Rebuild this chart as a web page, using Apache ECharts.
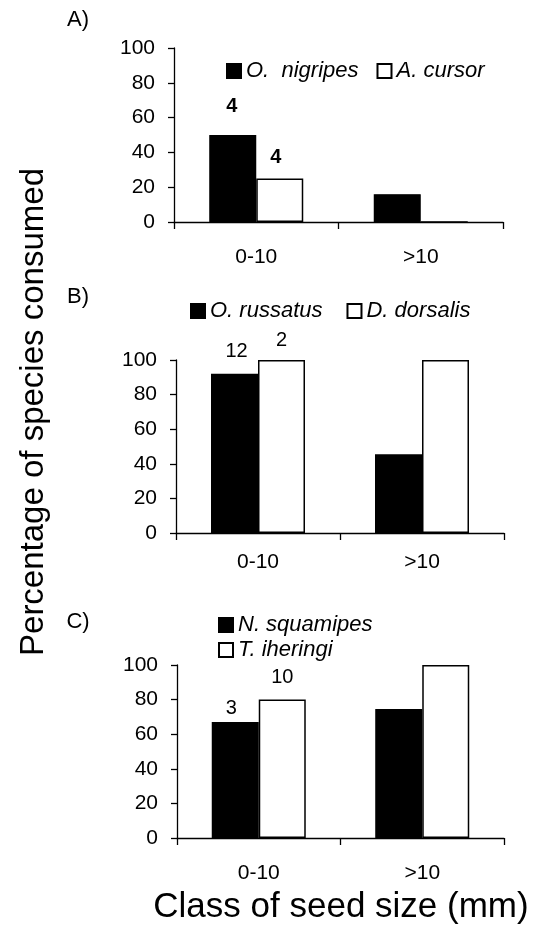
<!DOCTYPE html>
<html>
<head>
<meta charset="utf-8">
<script src="https://cdn.jsdelivr.net/npm/echarts@6/dist/echarts.min.js"></script>
<style>
  html, body { margin: 0; padding: 0; background: #fff; }
  #chart { width: 545px; height: 944px; }
</style>
</head>
<body>
<div id="chart"></div>
<script>
const categories = ['0-10', '>10'];

// panel A
const nigripes = [50, 16];
const cursor = [25, 0];
const nigripesN = ['4', ''];
const cursorN = ['4', ''];

// panel B
const russatus = [92, 45.5];
const dorsalis = [100, 100];
const russatusN = ['12', ''];
const dorsalisN = ['2', ''];

// panel C
const squamipes = [67, 74.5];
const iheringi = [80, 100];
const squamipesN = ['3', ''];
const iheringiN = ['10', ''];

const FONT = '"Liberation Sans", Arial, sans-serif';

const grids = [
  { left: 174, right: 42, top: 48, height: 174 },
  { left: 176, right: 41, top: 360, height: 173 },
  { left: 177, right: 41, top: 665, height: 173 }
];
const labelMargins = [25, 19, 25];

const xAxes = grids.map((g, i) => ({
  type: 'category',
  gridIndex: i,
  data: categories,
  axisLine: { lineStyle: { color: '#000', width: 1.3 } },
  axisTick: { show: true, length: 7, lineStyle: { color: '#000', width: 1.3 } },
  axisLabel: { color: '#000', fontSize: 21, fontFamily: FONT, margin: labelMargins[i] }
}));

const yAxes = grids.map((g, i) => ({
  type: 'value',
  gridIndex: i,
  min: 0,
  max: 100,
  interval: 20,
  splitLine: { show: false },
  axisLine: { show: true, lineStyle: { color: '#000', width: 1.3 } },
  axisTick: { show: true, length: 6, lineStyle: { color: '#000', width: 1.3 } },
  axisLabel: { color: '#000', fontSize: 21, fontFamily: FONT, margin: 19 }
}));

function barSeries(name, values, counts, idx, filled, dist, bold, dx) {
  return {
    name: name,
    type: 'bar',
    xAxisIndex: idx,
    yAxisIndex: idx,
    barWidth: 47,
    barGap: '0%',
    data: values.map((v, k) => ({
      value: v,
      label: { show: counts[k] !== '', formatter: counts[k] }
    })),
    itemStyle: filled
      ? { color: '#000', borderColor: '#000', borderWidth: 1.3 }
      : { color: '#fff', borderColor: '#000', borderWidth: 1.5 },
    label: {
      position: 'top',
      distance: dist,
      offset: [dx || 0, 0],
      color: '#000',
      fontSize: 20,
      fontWeight: bold ? 'bold' : 'normal',
      fontFamily: FONT
    }
  };
}

const series = [
  barSeries('O.  nigripes', nigripes, nigripesN, 0, true, 19, true, -1),
  barSeries('A. cursor', cursor, cursorN, 0, false, 11, true, -4),
  barSeries('O. russatus', russatus, russatusN, 1, true, 12, false, 2),
  barSeries('D. dorsalis', dorsalis, dorsalisN, 1, false, 10, false, 0),
  barSeries('N. squamipes', squamipes, squamipesN, 2, true, 4, false, -4),
  barSeries('T. iheringi', iheringi, iheringiN, 2, false, 12, false, 0)
];

const legendText = { color: '#000', fontSize: 22, fontStyle: 'italic', fontFamily: FONT };
const legends = [
  { data: ['O.  nigripes', 'A. cursor'], left: 221, top: 55, itemGap: 18 },
  { data: ['O. russatus', 'D. dorsalis'], left: 185, top: 295, itemGap: 24 },
  { data: ['N. squamipes', 'T. iheringi'], left: 213, top: 609, orient: 'vertical', itemGap: 3 }
].map(l => Object.assign({
  icon: 'rect',
  itemWidth: 14,
  itemHeight: 14,
  textStyle: legendText,
  selectedMode: false
}, l));

const panelText = (t, x, y) => ({
  type: 'text',
  x: x, y: y,
  style: { text: t, fill: '#000', font: '22px ' + FONT, textAlign: 'center', textVerticalAlign: 'middle' }
});

const chart = echarts.init(document.getElementById('chart'), null, { renderer: 'canvas' });
chart.setOption({
  animation: false,
  backgroundColor: '#fff',
  grid: grids,
  xAxis: xAxes,
  yAxis: yAxes,
  legend: legends,
  series: series,
  graphic: [
    panelText('A)', 78, 20),
    panelText('B)', 78, 297),
    panelText('C)', 78, 622),
    {
      type: 'text',
      x: 34, y: 412,
      rotation: Math.PI / 2,
      style: { text: 'Percentage of species consumed', fill: '#000', font: '33px ' + FONT, textAlign: 'center', textVerticalAlign: 'middle' }
    },
    {
      type: 'text',
      x: 341, y: 907,
      style: { text: 'Class of seed size (mm)', fill: '#000', font: '35px ' + FONT, textAlign: 'center', textVerticalAlign: 'middle' }
    }
  ]
});
</script>
</body>
</html>
